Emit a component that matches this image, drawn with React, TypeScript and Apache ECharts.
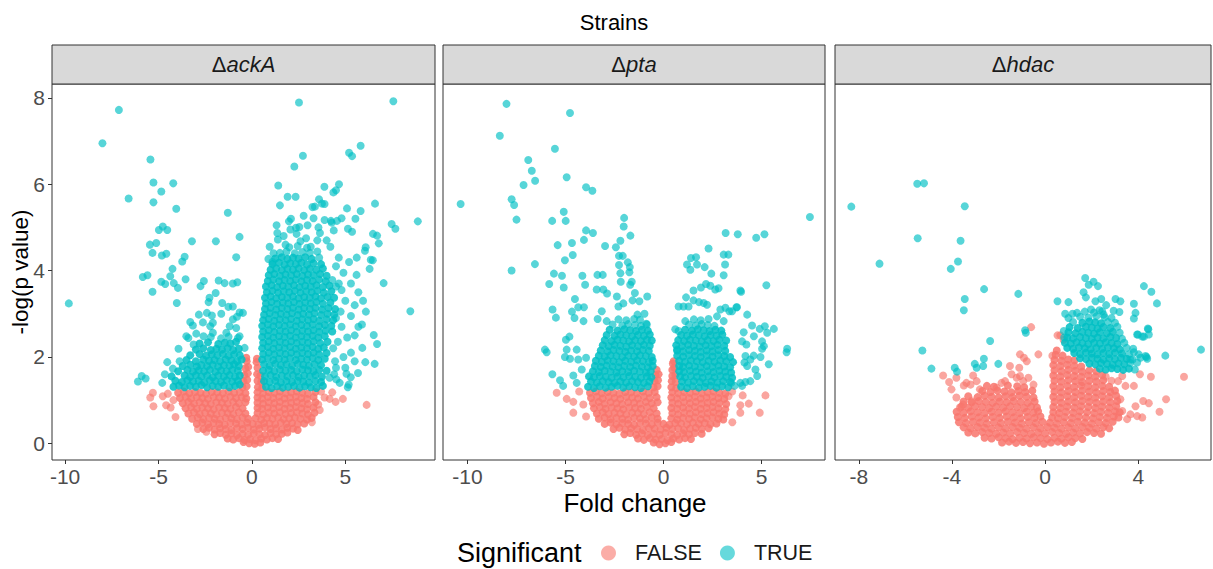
import React, { useEffect, useRef } from "react";
import * as echarts from "echarts";

// ---- data: fold change / -log(p value) pairs, flattened as x,y,x,y,... ----
// "core" arrays hold the crowded middle of each cloud, "scattered" arrays the loose points around it.

const strainLabels = ["ackA", "pta", "hdac"];
const yTicks = [0, 2, 4, 6, 8];
const ackA_xTicks = [-10, -5, 0, 5];
const pta_xTicks = [-10, -5, 0, 5];
const hdac_xTicks = [-8, -4, 0, 4];
const significanceLevels = ["FALSE", "TRUE"];

const ackA_false_core = [
  -0.45,0.03, -0.15,0.0, 0.15,-0.01, 0.45,0.02,
  -1.3,0.11, -1.0,0.09, -0.7,0.12, -0.4,0.08, -0.1,0.1, 0.2,0.07, 0.5,0.11, 0.8,0.09, 1.1,0.12, 1.4,0.1,
  -2.0,0.21, -1.7,0.24, -1.4,0.2, -1.1,0.23, -0.8,0.19, -0.5,0.22, -0.2,0.2, 0.1,0.23, 0.4,0.21, 0.7,0.19, 1.0,0.24, 1.3,0.21, 1.6,0.22, 1.9,0.25,
  -2.6,0.33, -2.3,0.36, -2.0,0.32, -1.7,0.35, -1.4,0.33, -1.1,0.31, -0.8,0.35, -0.5,0.33, -0.2,0.36, 0.1,0.32, 0.4,0.34, 0.7,0.37, 1.0,0.33, 1.3,0.35, 1.6,0.32, 1.9,0.36, 2.2,0.34, 2.45,0.31,
  -2.95,0.45, -2.65,0.48, -2.35,0.44, -2.05,0.47, -1.75,0.45, -1.45,0.43, -1.15,0.47, -0.85,0.46, -0.55,0.44, -0.25,0.48, 0.05,0.45, 0.35,0.43, 0.65,0.47, 0.95,0.46, 1.25,0.44, 1.55,0.48, 1.85,0.45, 2.15,0.47, 2.45,0.44, 2.8,0.46,
  -3.2,0.57, -2.9,0.6, -2.6,0.56, -2.3,0.59, -2.0,0.57, -1.7,0.55, -1.4,0.59, -1.1,0.58, -0.8,0.56, -0.5,0.6, -0.2,0.57, 0.2,0.58, 0.5,0.55, 0.8,0.59, 1.1,0.57, 1.4,0.6, 1.7,0.56, 2.0,0.58, 2.3,0.6, 2.6,0.57, 2.95,0.55, 3.2,0.59,
  -3.4,0.69, -3.1,0.72, -2.8,0.68, -2.5,0.71, -2.2,0.69, -1.9,0.67, -1.6,0.71, -1.3,0.7, -1.0,0.68, -0.7,0.72, -0.35,0.69, 0.3,0.7, 0.6,0.67, 0.9,0.71, 1.2,0.69, 1.5,0.72, 1.8,0.68, 2.1,0.7, 2.4,0.72, 2.7,0.69, 3.0,0.67, 3.35,0.71,
  -3.55,0.81, -3.25,0.84, -2.95,0.8, -2.65,0.83, -2.35,0.81, -2.05,0.79, -1.75,0.83, -1.45,0.82, -1.15,0.8, -0.85,0.84, -0.5,0.81, 0.3,0.82, 0.55,0.8, 0.85,0.83, 1.15,0.81, 1.45,0.84, 1.75,0.8, 2.05,0.82, 2.35,0.84, 2.65,0.81, 2.95,0.79, 3.3,0.83,
  -3.7,0.93, -3.4,0.96, -3.1,0.92, -2.8,0.95, -2.5,0.93, -2.2,0.91, -1.9,0.95, -1.6,0.94, -1.3,0.92, -1.0,0.96, -0.7,0.93, -0.35,0.95, 0.3,0.94, 0.6,0.92, 0.9,0.95, 1.2,0.93, 1.5,0.96, 1.8,0.92, 2.1,0.94, 2.4,0.96, 2.7,0.93, 3.0,0.91, 3.4,0.95,
  -3.85,1.05, -3.55,1.08, -3.25,1.04, -2.95,1.07, -2.65,1.05, -2.35,1.03, -2.05,1.07, -1.75,1.06, -1.45,1.04, -1.15,1.08, -0.85,1.05, -0.55,1.07, -0.3,1.04, 0.3,1.06, 0.55,1.04, 0.85,1.07, 1.15,1.05, 1.45,1.08, 1.75,1.04, 2.05,1.06, 2.35,1.08, 2.65,1.05, 2.95,1.03, 3.3,1.07,
  -3.95,1.17, -3.65,1.2, -3.35,1.16, -3.05,1.19, -2.75,1.17, -2.45,1.15, -2.15,1.19, -1.85,1.18, -1.55,1.16, -1.25,1.2, -0.95,1.17, -0.65,1.19, -0.35,1.16, 0.3,1.18, 0.6,1.16, 0.9,1.19, 1.2,1.17, 1.5,1.2, 1.8,1.16, 2.1,1.18, 2.4,1.2, 2.7,1.17, 3.0,1.15, 3.4,1.19,
  -0.5,1.3, -0.28,1.32, 0.32,1.3, 0.55,1.28, -0.45,1.44, -0.25,1.47, 0.3,1.45, 0.5,1.42, -0.4,1.58, -0.22,1.62, 0.28,1.6, 0.45,1.57, -0.35,1.74, -0.2,1.77, 0.3,1.75, -0.28,1.9, 0.25,1.88, -0.3,1.98, 0.27,1.96,
];

const ackA_false_scattered = [
  -5.3,1.17, -5.44,1.06, -5.27,0.86, -4.77,1.09, -4.59,0.88, -4.09,0.61, -4.35,0.83, -4.5,1.15, -4.2,1.0, -2.89,0.33, -2.44,0.27,
  6.14,0.89, 4.87,1.03, 4.48,0.96, 4.16,1.03, 3.89,1.06, 3.63,0.77, 3.21,0.49, 3.7,1.2, 4.3,1.18, 3.55,0.9,
];

const ackA_true_core = [
  // left cloud
  -4.2,1.31, -3.9,1.34, -3.6,1.3, -3.3,1.33, -3.0,1.31, -2.7,1.35, -2.4,1.3, -2.1,1.33, -1.8,1.31, -1.5,1.34, -1.2,1.3, -0.9,1.33, -0.65,1.36,
  -4.1,1.45, -3.75,1.42, -3.45,1.46, -3.15,1.43, -2.85,1.45, -2.55,1.41, -2.25,1.46, -1.95,1.44, -1.65,1.42, -1.35,1.46, -1.05,1.43, -0.75,1.45,
  -4.3,1.55, -3.6,1.57, -3.3,1.54, -3.0,1.58, -2.7,1.55, -2.4,1.57, -2.1,1.53, -1.8,1.57, -1.5,1.55, -1.2,1.58, -0.9,1.54, -0.65,1.57,
  -3.95,1.67, -3.45,1.7, -3.15,1.66, -2.85,1.69, -2.55,1.67, -2.25,1.7, -1.95,1.66, -1.65,1.69, -1.35,1.67, -1.05,1.7, -0.75,1.68,
  -3.7,1.79, -3.3,1.82, -2.95,1.78, -2.7,1.81, -2.4,1.79, -2.1,1.82, -1.8,1.78, -1.5,1.81, -1.2,1.8, -0.95,1.83, -0.7,1.79,
  -3.5,1.93, -3.0,1.9, -2.6,1.94, -2.3,1.91, -2.0,1.93, -1.7,1.9, -1.4,1.94, -1.1,1.92, -0.8,1.9, -0.55,1.94,
  -3.3,2.04, -2.8,2.07, -2.45,2.03, -2.15,2.06, -1.85,2.04, -1.55,2.07, -1.25,2.03, -0.95,2.06, -0.65,2.04,
  -3.0,2.17, -2.6,2.2, -2.2,2.16, -1.9,2.19, -1.6,2.17, -1.3,2.2, -1.0,2.16, -0.7,2.19,
  -2.8,2.31, -2.35,2.34, -1.8,2.3, -1.45,2.33, -1.15,2.31, -0.85,2.35,
  // right cloud
  0.75,1.31, 1.05,1.28, 1.35,1.32, 1.65,1.29, 1.95,1.31, 2.25,1.33, 2.55,1.29, 2.85,1.32, 3.15,1.3, 3.45,1.28, 3.8,1.33,
  0.65,1.44, 0.95,1.42, 1.25,1.45, 1.55,1.41, 1.85,1.44, 2.15,1.42, 2.45,1.45, 2.75,1.43, 3.05,1.41, 3.4,1.44, 3.7,1.42,
  0.7,1.55, 1.0,1.58, 1.3,1.54, 1.6,1.57, 1.9,1.55, 2.2,1.58, 2.5,1.54, 2.8,1.57, 3.1,1.55, 3.4,1.58, 3.75,1.54,
  0.6,1.68, 0.9,1.7, 1.2,1.67, 1.5,1.71, 1.8,1.68, 2.1,1.7, 2.4,1.67, 2.7,1.71, 3.0,1.69, 3.3,1.67, 3.6,1.7, 4.0,1.68,
  0.65,1.83, 0.95,1.8, 1.25,1.84, 1.55,1.81, 1.85,1.83, 2.15,1.8, 2.45,1.84, 2.75,1.82, 3.05,1.8, 3.35,1.83, 3.7,1.81,
  0.55,1.94, 0.85,1.97, 1.15,1.93, 1.45,1.96, 1.75,1.94, 2.05,1.97, 2.35,1.93, 2.65,1.96, 2.95,1.94, 3.25,1.97, 3.55,1.93, 3.9,1.96,
  0.6,2.07, 0.9,2.1, 1.2,2.06, 1.5,2.09, 1.8,2.07, 2.1,2.1, 2.4,2.06, 2.7,2.09, 3.0,2.07, 3.3,2.1, 3.6,2.06, 4.0,2.09,
  0.55,2.2, 0.85,2.23, 1.15,2.19, 1.45,2.22, 1.75,2.2, 2.05,2.23, 2.35,2.19, 2.65,2.22, 2.95,2.2, 3.25,2.23, 3.55,2.19, 3.85,2.22,
  0.6,2.33, 0.9,2.36, 1.2,2.32, 1.5,2.35, 1.8,2.33, 2.1,2.36, 2.4,2.32, 2.7,2.35, 3.0,2.33, 3.3,2.36, 3.65,2.32, 4.05,2.35,
  0.55,2.46, 0.85,2.49, 1.15,2.45, 1.45,2.48, 1.75,2.46, 2.05,2.49, 2.35,2.45, 2.65,2.48, 2.95,2.46, 3.25,2.49, 3.55,2.45, 3.9,2.48,
  0.6,2.59, 0.9,2.62, 1.2,2.58, 1.5,2.61, 1.8,2.59, 2.1,2.62, 2.4,2.58, 2.7,2.61, 3.0,2.59, 3.3,2.62, 3.6,2.58, 3.95,2.61, 4.3,2.59,
  0.55,2.72, 0.85,2.75, 1.15,2.71, 1.45,2.74, 1.75,2.72, 2.05,2.75, 2.35,2.71, 2.65,2.74, 2.95,2.72, 3.25,2.75, 3.6,2.71, 3.9,2.74, 4.25,2.72,
  0.6,2.85, 0.9,2.88, 1.2,2.84, 1.5,2.87, 1.8,2.85, 2.1,2.88, 2.4,2.84, 2.7,2.87, 3.0,2.85, 3.3,2.88, 3.6,2.84, 4.0,2.87, 4.35,2.85,
  0.65,2.98, 0.95,3.01, 1.25,2.97, 1.55,3.0, 1.85,2.98, 2.15,3.01, 2.45,2.97, 2.75,3.0, 3.05,2.98, 3.35,3.01, 3.7,2.97, 4.05,3.0, 4.4,2.98,
  0.7,3.11, 1.0,3.14, 1.3,3.1, 1.6,3.13, 1.9,3.11, 2.2,3.14, 2.5,3.1, 2.8,3.13, 3.1,3.11, 3.4,3.14, 3.75,3.1, 4.1,3.13, 4.45,3.11,
  0.75,3.24, 1.05,3.27, 1.35,3.23, 1.65,3.26, 1.95,3.24, 2.25,3.27, 2.55,3.23, 2.85,3.26, 3.15,3.24, 3.45,3.27, 3.8,3.23, 4.2,3.26,
  0.7,3.37, 1.0,3.4, 1.3,3.36, 1.6,3.39, 1.9,3.37, 2.2,3.4, 2.5,3.36, 2.8,3.39, 3.1,3.37, 3.4,3.4, 3.7,3.36, 4.05,3.39, 4.4,3.37,
  0.8,3.5, 1.1,3.53, 1.4,3.49, 1.7,3.52, 2.0,3.5, 2.3,3.53, 2.6,3.49, 2.9,3.52, 3.2,3.5, 3.5,3.53, 3.85,3.49, 4.25,3.52,
  0.75,3.63, 1.05,3.66, 1.35,3.62, 1.65,3.65, 1.95,3.63, 2.25,3.66, 2.55,3.62, 2.85,3.65, 3.15,3.63, 3.45,3.66, 3.8,3.62, 4.15,3.65,
  0.85,3.76, 1.15,3.79, 1.45,3.75, 1.75,3.78, 2.05,3.76, 2.35,3.79, 2.65,3.75, 2.95,3.78, 3.25,3.76, 3.6,3.79, 3.95,3.75,
  0.9,3.89, 1.2,3.92, 1.5,3.88, 1.8,3.91, 2.1,3.89, 2.4,3.92, 2.7,3.88, 3.0,3.91, 3.3,3.89, 3.65,3.92, 4.0,3.88,
  1.0,4.02, 1.3,4.05, 1.6,4.01, 1.9,4.04, 2.2,4.02, 2.5,4.05, 2.8,4.01, 3.1,4.04, 3.45,4.02, 3.8,4.05,
  1.1,4.15, 1.45,4.18, 1.75,4.14, 2.05,4.17, 2.35,4.15, 2.65,4.18, 2.95,4.14, 3.3,4.17, 3.7,4.15,
  1.25,4.28, 1.6,4.31, 1.9,4.27, 2.2,4.3, 2.5,4.28, 2.85,4.31, 3.2,4.27,
];

const ackA_true_scattered = [
  -9.8,3.24, -8.0,6.95, -7.12,7.72, -6.6,5.67, -5.43,6.57, -5.27,6.04, -4.21,6.02, -4.85,5.83, -5.27,5.58, -4.05,5.43,
  -4.98,4.94, -4.77,5.02, -4.53,4.94, -5.46,4.6, -5.12,4.64, -5.32,4.41, -4.82,4.35, -4.58,4.39, -4.25,4.04, -3.73,4.21,
  -3.6,4.32, -5.84,3.85, -5.59,3.89, -4.85,3.74, -4.64,3.69, -4.37,3.87, -4.18,3.71, -3.96,3.6, -3.55,3.8, -5.32,3.51,
  -4.02,3.25, -3.21,4.68, -1.93,4.68, -1.29,5.34, -0.66,4.78, -0.84,4.31, -2.75,3.64, -2.57,3.76, -1.78,3.77, -1.46,3.71,
  -1.02,3.7, -0.78,3.73, -1.94,3.48, -2.27,3.37, -2.32,3.27, -1.59,3.25, -1.26,3.16, -1.02,3.17, -1.64,3.0, -2.84,2.98,
  -2.41,3.02, -2.14,2.96, -0.66,3.03, -0.48,3.02, -3.3,2.81, -3.16,2.73, -2.62,2.8, -2.23,2.71, -1.02,2.87, -0.8,2.93,
  -1.19,2.71, -0.84,2.67, -2.09,2.79, -3.51,2.48, -2.98,2.54, -2.59,2.48, -2.09,2.56, -1.37,2.56, -0.66,2.48, -0.39,2.21,
  -3.12,2.29, -3.93,2.19, -6.1,1.43, -5.9,1.56, -5.69,1.5, -4.8,1.4, -4.53,1.88, -4.66,1.6, -4.23,1.73, -3.87,1.9,
  -3.4,2.44, -2.2,2.46, -1.65,2.43, -1.25,2.47, -0.75,2.44,
  4.5,3.63, 4.3,3.78, 3.6,4.3, 1.5,4.41, 1.85,4.44, 2.3,4.4, 2.7,4.43, 3.1,4.41, 3.5,4.44, 2.0,4.54, 2.45,4.57, 2.95,4.53,
  2.52,7.89, 7.57,7.92, 2.73,6.66, 2.27,6.41, 5.2,6.73, 5.36,6.65, 5.82,6.89, 1.41,5.97, 1.91,5.71, 2.34,5.71,
  3.88,5.94, 4.66,6.0, 4.36,5.81, 4.5,5.86, 3.59,5.65, 3.75,5.55, 3.89,5.54, 3.37,5.48, 3.24,5.47, 1.5,5.51,
  5.09,5.44, 6.59,5.55, 5.82,5.38, 8.88,5.14, 7.48,5.08, 7.68,4.97, 2.77,5.27, 3.3,5.21, 2.09,5.2, 1.98,5.14,
  1.32,5.05, 1.36,4.87, 1.39,4.72, 3.89,5.17, 4.23,5.15, 4.55,5.15, 4.8,5.21, 5.54,5.2, 2.36,4.99, 2.54,5.01,
  2.98,5.05, 3.56,5.0, 3.64,4.87, 4.27,5.11, 4.38,4.93, 5.14,4.97, 5.36,4.9, 2.06,4.95, 2.39,4.85, 6.48,4.85,
  6.7,4.81, 6.79,4.63, 6.09,4.54, 6.05,4.46, 5.61,4.3, 6.47,4.24, 7.05,3.71, 0.88,4.27, 1.16,4.4, 8.48,3.06,
  6.52,2.51, 6.7,2.3, 6.57,1.84, 6.07,1.88, 5.91,2.21, 5.89,2.75, 5.7,2.7, 6.36,4.25, 6.3,4.04, 5.68,1.63,
  5.29,1.53, 5.13,1.3, 5.06,1.61, 5.18,1.36, 4.52,1.48, 4.16,1.52, 4.7,1.4, 5.0,1.75, 4.5,1.75, 4.9,2.0,
  5.3,2.1, 4.6,2.35, 5.1,2.45, 5.5,2.5, 4.8,2.7, 5.3,2.95, 4.75,3.05, 5.0,3.3, 5.5,3.2, 4.8,3.55,
  5.3,3.7, 5.6,3.9, 4.9,3.95, 5.2,4.2, 4.65,4.3, 5.7,3.5, 5.95,3.3, 6.1,3.05, 5.5,1.9, 4.4,1.6,
  4.2,4.55, 4.0,4.7, 3.5,4.7, 2.9,4.75, 1.8,4.6, 2.6,4.68, 3.15,4.55, 1.1,4.2, 4.5,4.1, 4.35,2.2,
  4.5,2.9, 4.65,3.7, 4.45,1.9, 0.95,4.55, 1.7,4.8,
];

const pta_false_core = [
  -0.5,0.02, -0.2,-0.02, 0.1,0.0, 0.4,0.03,
  -1.3,0.11, -1.0,0.08, -0.7,0.12, -0.4,0.09, -0.1,0.1, 0.2,0.07, 0.5,0.11, 0.8,0.09, 1.1,0.12, 1.4,0.1,
  -2.0,0.21, -1.7,0.24, -1.4,0.2, -1.1,0.23, -0.8,0.19, -0.5,0.22, -0.2,0.2, 0.1,0.24, 0.4,0.21, 0.7,0.19, 1.0,0.23, 1.3,0.21, 1.6,0.24, 1.95,0.22,
  -2.55,0.33, -2.25,0.36, -1.95,0.32, -1.65,0.35, -1.35,0.33, -1.05,0.31, -0.75,0.35, -0.45,0.34, -0.15,0.32, 0.15,0.36, 0.45,0.33, 0.75,0.35, 1.05,0.31, 1.35,0.34, 1.65,0.36, 1.95,0.33, 2.3,0.35,
  -3.0,0.45, -2.7,0.48, -2.4,0.44, -2.1,0.47, -1.8,0.45, -1.5,0.43, -1.2,0.47, -0.9,0.46, -0.6,0.44, -0.3,0.48, 0.0,0.45, 0.3,0.43, 0.6,0.47, 0.9,0.46, 1.2,0.44, 1.5,0.48, 1.8,0.45, 2.1,0.47, 2.4,0.44, 2.7,0.46,
  -3.3,0.57, -3.0,0.6, -2.7,0.56, -2.4,0.59, -2.1,0.57, -1.8,0.55, -1.5,0.59, -1.2,0.58, -0.9,0.56, -0.6,0.6, -0.3,0.57, 0.4,0.58, 0.7,0.55, 1.0,0.59, 1.3,0.57, 1.6,0.6, 1.9,0.56, 2.2,0.58, 2.5,0.6, 2.8,0.57, 3.05,0.55,
  -3.4,0.69, -3.1,0.72, -2.8,0.68, -2.5,0.71, -2.2,0.69, -1.9,0.67, -1.6,0.71, -1.3,0.7, -1.0,0.68, -0.7,0.72, -0.35,0.69, 0.45,0.7, 0.75,0.67, 1.05,0.71, 1.35,0.69, 1.65,0.72, 1.95,0.68, 2.25,0.7, 2.55,0.72, 2.85,0.69, 3.1,0.67,
  -3.55,0.81, -3.25,0.84, -2.95,0.8, -2.65,0.83, -2.35,0.81, -2.05,0.79, -1.75,0.83, -1.45,0.82, -1.15,0.8, -0.85,0.84, -0.5,0.81, 0.4,0.82, 0.7,0.8, 1.0,0.83, 1.3,0.81, 1.6,0.84, 1.9,0.8, 2.2,0.82, 2.5,0.84, 2.8,0.81, 3.15,0.79,
  -3.6,0.93, -3.3,0.96, -3.0,0.92, -2.7,0.95, -2.4,0.93, -2.1,0.91, -1.8,0.95, -1.5,0.94, -1.2,0.92, -0.9,0.96, -0.6,0.93, -0.3,0.95, 0.45,0.94, 0.75,0.92, 1.05,0.95, 1.35,0.93, 1.65,0.96, 1.95,0.92, 2.25,0.94, 2.55,0.96, 2.85,0.93, 3.2,0.91,
  -3.7,1.05, -3.4,1.08, -3.1,1.04, -2.8,1.07, -2.5,1.05, -2.2,1.03, -1.9,1.07, -1.6,1.06, -1.3,1.04, -1.0,1.08, -0.7,1.05, -0.35,1.07, 0.4,1.06, 0.7,1.04, 1.0,1.07, 1.3,1.05, 1.6,1.08, 1.9,1.04, 2.2,1.06, 2.5,1.08, 2.8,1.05, 3.1,1.03,
  -3.75,1.17, -3.45,1.2, -3.15,1.16, -2.85,1.19, -2.55,1.17, -2.25,1.15, -1.95,1.19, -1.65,1.18, -1.35,1.16, -1.05,1.2, -0.75,1.17, -0.45,1.19, 0.45,1.18, 0.75,1.16, 1.05,1.19, 1.35,1.17, 1.65,1.2, 1.95,1.16, 2.25,1.18, 2.55,1.2, 2.85,1.17, 3.15,1.15,
  -0.5,1.3, -0.3,1.32, 0.4,1.3, 0.65,1.28, -0.45,1.44, -0.28,1.46, 0.42,1.44, 0.62,1.42, -0.4,1.58, -0.25,1.6, 0.45,1.56, 0.6,1.58, -0.35,1.7, 0.45,1.7, 0.55,1.75, 0.48,1.85, 0.52,1.9,
];

const pta_false_scattered = [
  -5.45,1.17, -4.94,1.03, -4.6,0.96, -4.6,0.71, -4.09,0.9, -4.3,1.2, -3.95,0.62,
  4.04,1.11, 4.35,0.92, 3.92,0.88, 3.92,0.71, 4.91,0.71, 5.2,1.11, 3.51,0.49, 3.32,1.09, 3.5,1.2,
];

const pta_true_core = [
  // left cloud
  -3.85,1.31, -3.55,1.28, -3.25,1.32, -2.95,1.29, -2.65,1.31, -2.35,1.33, -2.05,1.29, -1.75,1.32, -1.45,1.3, -1.15,1.28, -0.8,1.32,
  -3.7,1.43, -3.4,1.41, -3.1,1.44, -2.8,1.42, -2.5,1.4, -2.2,1.43, -1.9,1.41, -1.6,1.44, -1.3,1.42, -1.0,1.4, -0.72,1.43,
  -3.8,1.55, -3.55,1.53, -3.25,1.56, -2.95,1.54, -2.65,1.52, -2.35,1.55, -2.05,1.53, -1.75,1.56, -1.45,1.54, -1.15,1.52, -0.85,1.55, -0.62,1.53,
  -3.6,1.67, -3.3,1.65, -3.0,1.68, -2.7,1.66, -2.4,1.64, -2.1,1.67, -1.8,1.65, -1.5,1.68, -1.2,1.66, -0.9,1.64, -0.65,1.67,
  -3.5,1.79, -3.2,1.77, -2.9,1.8, -2.6,1.78, -2.3,1.76, -2.0,1.79, -1.7,1.77, -1.4,1.8, -1.1,1.78, -0.8,1.76, -0.55,1.79,
  -3.45,1.91, -3.15,1.89, -2.85,1.92, -2.55,1.9, -2.25,1.88, -1.95,1.91, -1.65,1.89, -1.35,1.92, -1.05,1.9, -0.75,1.88, -0.55,1.91,
  -3.3,2.03, -3.0,2.01, -2.7,2.04, -2.4,2.02, -2.1,2.0, -1.8,2.03, -1.5,2.01, -1.2,2.04, -0.9,2.02, -0.6,2.0,
  -3.2,2.15, -2.85,2.13, -2.55,2.16, -2.25,2.14, -1.95,2.12, -1.65,2.15, -1.35,2.13, -1.05,2.16, -0.75,2.14,
  -3.1,2.27, -2.8,2.25, -2.5,2.28, -2.2,2.26, -1.9,2.24, -1.6,2.27, -1.3,2.25, -1.0,2.28, -0.7,2.26,
  -3.0,2.39, -2.65,2.37, -2.35,2.4, -2.05,2.38, -1.75,2.36, -1.45,2.39, -1.15,2.37, -0.85,2.4, -0.6,2.38,
  -2.9,2.51, -2.5,2.49, -2.2,2.52, -1.9,2.5, -1.6,2.48, -1.3,2.51, -1.0,2.49, -0.7,2.52,
  -2.75,2.63, -2.35,2.61, -2.0,2.64, -1.7,2.62, -1.4,2.6, -1.1,2.63, -0.8,2.61,
  // right cloud
  0.9,1.31, 1.2,1.28, 1.5,1.32, 1.8,1.29, 2.1,1.31, 2.4,1.33, 2.7,1.29, 3.0,1.32, 3.3,1.3,
  0.95,1.43, 1.25,1.41, 1.55,1.44, 1.85,1.42, 2.15,1.4, 2.45,1.43, 2.75,1.41, 3.05,1.44, 3.4,1.42,
  0.85,1.55, 1.1,1.53, 1.4,1.56, 1.7,1.54, 2.0,1.52, 2.3,1.55, 2.6,1.53, 2.9,1.56, 3.2,1.54, 3.5,1.52,
  0.8,1.67, 1.05,1.65, 1.35,1.68, 1.65,1.66, 1.95,1.64, 2.25,1.67, 2.55,1.65, 2.85,1.68, 3.15,1.66, 3.45,1.64,
  0.8,1.79, 1.0,1.77, 1.3,1.8, 1.6,1.78, 1.9,1.76, 2.2,1.79, 2.5,1.77, 2.8,1.8, 3.1,1.78, 3.4,1.76,
  0.8,1.91, 1.1,1.89, 1.4,1.92, 1.7,1.9, 2.0,1.88, 2.3,1.91, 2.6,1.89, 2.9,1.92, 3.2,1.9, 3.55,1.88,
  0.7,2.03, 1.0,2.01, 1.3,2.04, 1.6,2.02, 1.9,2.0, 2.2,2.03, 2.5,2.01, 2.8,2.04, 3.1,2.02, 3.4,2.0,
  0.7,2.15, 1.0,2.13, 1.3,2.16, 1.6,2.14, 1.9,2.12, 2.2,2.15, 2.5,2.13, 2.8,2.16, 3.15,2.14,
  0.65,2.27, 0.95,2.25, 1.25,2.28, 1.55,2.26, 1.85,2.24, 2.15,2.27, 2.45,2.25, 2.75,2.28, 3.1,2.26,
  0.75,2.39, 1.05,2.37, 1.35,2.4, 1.65,2.38, 1.95,2.36, 2.25,2.39, 2.55,2.37, 2.85,2.4, 3.2,2.38,
  0.9,2.51, 1.2,2.49, 1.5,2.52, 1.8,2.5, 2.1,2.48, 2.4,2.51, 2.7,2.49, 3.0,2.52,
  1.1,2.63, 1.45,2.61, 1.75,2.64, 2.05,2.62, 2.35,2.6, 2.65,2.63, 2.95,2.61,
];

const pta_true_scattered = [
  -8.01,7.86, -4.77,7.65, -8.35,7.12, -5.54,6.82, -6.9,6.56, -6.72,6.31, -6.55,6.08, -7.14,5.98, -4.94,6.16, -3.95,5.93,
  -3.63,5.85, -7.75,5.65, -7.62,5.52, -10.35,5.54, -7.5,5.18, -5.09,5.36, -5.68,5.15, -4.99,5.15, -2.01,5.22, -2.03,5.02,
  -3.95,4.93, -3.6,4.87, -1.69,4.81, -4.06,4.71, -5.4,4.59, -4.67,4.64, -2.98,4.57, -2.43,4.54, -2.2,4.69,
  -7.75,4.0, -6.56,4.15, -5.03,4.24, -4.63,4.36, -5.59,3.93, -5.18,3.88, -5.83,3.69, -5.09,3.61, -4.14,3.88, -4.0,3.67,
  -3.37,3.9, -3.1,3.9, -3.41,3.56, -3.07,3.56, -2.88,3.47, -2.27,4.34, -2.08,4.34, -2.27,4.13, -1.82,4.19, -1.72,4.08,
  -2.2,3.94, -1.74,3.96, -2.18,3.74, -1.62,3.74, -1.7,3.67, -1.46,3.48, -1.58,3.31, -0.83,3.4, -1.23,3.29, -2.38,3.4,
  -2.3,3.17, -2.05,3.24, -4.52,3.34, -4.06,3.15, -4.35,3.15, -4.67,3.05, -4.54,2.9, -4.08,2.83, -5.66,3.1, -5.49,2.91,
  -3.36,2.88, -3.15,3.06, -2.9,2.83, -0.97,3.0, -1.33,2.98, -0.88,2.77, -4.98,2.4, -4.8,2.47, -6.05,2.17, -5.96,2.11,
  -4.94,2.17, -4.43,2.17, -4.35,1.94, -3.95,1.98, -5.03,2.0, -4.77,1.96, -5.67,1.6, -5.28,1.46, -5.12,1.33, -4.6,1.57,
  -4.43,1.4, -4.17,1.71,
  -2.6,2.75, -2.1,2.73, -1.8,2.76, -1.45,2.74, -1.15,2.72, -0.85,2.75, -2.3,2.87, -1.9,2.85, -1.5,2.88, -1.2,2.86,
  1.3,2.75, 1.65,2.73, 1.95,2.76, 2.25,2.74, 2.6,2.72, 1.55,2.87, 1.9,2.85, 2.3,2.88,
  0.6,2.64, 1.11,2.83, 0.77,2.6, 0.69,2.17,
  7.47,5.24, 3.17,4.87, 3.79,4.84, 4.73,4.76, 5.15,4.84, 2.3,4.51, 3.31,4.37, 1.4,4.29, 1.66,4.31, 5.25,3.66,
  3.96,3.51, 6.31,2.19, 6.28,2.11, 5.37,1.83, 5.03,2.19, 4.95,2.0, 5.63,2.65, 5.17,2.71, 4.91,2.65, 4.52,2.73,
  4.61,2.48, 4.09,2.57, 4.01,2.36, 4.23,2.29, 4.27,2.98, 3.72,3.15, 3.36,3.06, 3.07,2.83, 4.18,2.02, 4.43,1.94,
  4.6,2.03, 4.13,1.87, 3.92,1.4, 4.18,1.42, 4.01,1.33, 3.46,1.4, 3.62,1.33, 3.07,4.37, 3.14,4.14, 3.07,3.89,
  1.2,4.14, 1.71,4.14, 1.37,4.02, 2.1,4.08, 2.44,3.93, 2.17,3.69, 2.39,3.65, 2.64,3.56, 1.91,3.61, 1.53,3.54,
  1.15,3.38, 1.28,3.17, 1.53,3.31, 1.81,3.27, 2.05,3.25, 0.77,3.17, 2.9,3.1, 3.16,3.14, 3.5,3.06, 3.75,3.15,
  2.73,2.94, 3.92,3.54, 2.81,3.59, 2.22,3.21, 1.02,3.17, 5.29,2.56, 5.03,2.36, 5.12,2.25, 4.69,1.71, 4.78,1.56,
  4.43,1.44, 4.27,1.79,
];

const hdac_false_core = [
  -1.85,0.02, -1.55,0.04, -1.25,0.01, -0.95,0.03, -0.65,0.0, -0.35,0.02, -0.05,-0.01, 0.25,0.02, 0.55,0.04, 0.85,0.01, 1.15,0.03,
  -2.6,0.13, -2.3,0.11, -2.0,0.14, -1.7,0.12, -1.4,0.1, -1.1,0.13, -0.8,0.11, -0.5,0.14, -0.2,0.12, 0.1,0.1, 0.4,0.13, 0.7,0.11, 1.0,0.14, 1.3,0.12, 1.6,0.1,
  -3.3,0.25, -3.0,0.23, -2.7,0.26, -2.4,0.24, -2.1,0.22, -1.8,0.25, -1.5,0.23, -1.2,0.26, -0.9,0.24, -0.6,0.22, -0.3,0.25, 0.0,0.23, 0.3,0.26, 0.6,0.24, 0.9,0.22, 1.2,0.25, 1.5,0.23, 1.8,0.26, 2.1,0.24, 2.4,0.22,
  -3.5,0.37, -3.2,0.35, -2.9,0.38, -2.6,0.36, -2.3,0.34, -2.0,0.37, -1.7,0.35, -1.4,0.38, -1.1,0.36, -0.8,0.34, -0.5,0.37, -0.2,0.35, 0.1,0.38, 0.4,0.36, 0.7,0.34, 1.0,0.37, 1.3,0.35, 1.6,0.38, 1.9,0.36, 2.2,0.34, 2.5,0.37, 2.75,0.35,
  -3.7,0.49, -3.4,0.47, -3.1,0.5, -2.8,0.48, -2.5,0.46, -2.2,0.49, -1.9,0.47, -1.6,0.5, -1.3,0.48, -1.0,0.46, -0.7,0.49, -0.4,0.47, -0.12,0.5, 0.2,0.48, 0.5,0.46, 0.8,0.49, 1.1,0.47, 1.4,0.5, 1.7,0.48, 2.0,0.46, 2.3,0.49, 2.6,0.47, 2.9,0.5,
  -3.75,0.61, -3.45,0.59, -3.15,0.62, -2.85,0.6, -2.55,0.58, -2.25,0.61, -1.95,0.59, -1.65,0.62, -1.35,0.6, -1.05,0.58, -0.75,0.61, -0.45,0.59, -0.2,0.62, 0.3,0.6, 0.55,0.58, 0.85,0.61, 1.15,0.59, 1.45,0.62, 1.75,0.6, 2.05,0.58, 2.35,0.61, 2.65,0.59, 2.95,0.62, 3.15,0.6,
  -3.8,0.73, -3.5,0.71, -3.2,0.74, -2.9,0.72, -2.6,0.7, -2.3,0.73, -2.0,0.71, -1.7,0.74, -1.4,0.72, -1.1,0.7, -0.8,0.73, -0.5,0.71, -0.3,0.74, 0.35,0.72, 0.6,0.7, 0.9,0.73, 1.2,0.71, 1.5,0.74, 1.8,0.72, 2.1,0.7, 2.4,0.73, 2.7,0.71, 3.0,0.74, 3.2,0.72,
  -3.6,0.85, -3.3,0.83, -3.0,0.86, -2.7,0.84, -2.4,0.82, -2.1,0.85, -1.8,0.83, -1.5,0.86, -1.2,0.84, -0.9,0.82, -0.6,0.85, -0.35,0.83, 0.35,0.84, 0.65,0.82, 0.95,0.85, 1.25,0.83, 1.55,0.86, 1.85,0.84, 2.15,0.82, 2.45,0.85, 2.75,0.83, 3.05,0.86,
  -3.5,0.97, -3.15,0.95, -2.85,0.98, -2.55,0.96, -2.25,0.94, -1.95,0.97, -1.65,0.95, -1.35,0.98, -1.05,0.96, -0.75,0.94, -0.45,0.97, 0.4,0.96, 0.7,0.94, 1.0,0.97, 1.3,0.95, 1.6,0.98, 1.9,0.96, 2.2,0.94, 2.5,0.97, 2.8,0.95, 3.1,0.98,
  -3.3,1.09, -2.9,1.07, -2.6,1.1, -2.3,1.08, -2.0,1.06, -1.7,1.09, -1.4,1.07, -1.1,1.1, -0.8,1.08, -0.5,1.06, 0.35,1.08, 0.65,1.06, 0.95,1.09, 1.25,1.07, 1.55,1.1, 1.85,1.08, 2.15,1.06, 2.45,1.09, 2.75,1.07, 3.05,1.1,
  -2.7,1.21, -2.35,1.19, -2.05,1.22, -1.75,1.2, -1.45,1.18, -1.15,1.21, -0.85,1.19, -0.55,1.22, 0.4,1.2, 0.7,1.18, 1.0,1.21, 1.3,1.19, 1.6,1.22, 1.9,1.2, 2.2,1.18, 2.5,1.21, 2.8,1.19, 3.0,1.22,
  -2.5,1.33, -2.2,1.31, -1.6,1.34, -1.2,1.32, -0.9,1.3, 0.35,1.32, 0.65,1.3, 0.95,1.33, 1.25,1.31, 1.55,1.34, 1.85,1.32, 2.15,1.3, 2.45,1.33, 2.75,1.31,
  0.4,1.45, 0.7,1.43, 1.0,1.46, 1.3,1.44, 1.6,1.42, 1.9,1.45, 2.2,1.43, 2.5,1.46,
  0.35,1.57, 0.65,1.55, 0.95,1.58, 1.25,1.56, 1.55,1.54, 1.85,1.57, 2.15,1.55, 2.45,1.58,
  0.4,1.69, 0.7,1.67, 1.0,1.7, 1.3,1.68, 1.6,1.66, 1.9,1.69, 2.2,1.67,
  0.35,1.81, 0.65,1.79, 0.95,1.82, 1.25,1.8, 1.55,1.78,
  0.4,1.93, 0.7,1.91, 1.0,1.94, 1.25,1.92,
  0.45,2.05, 0.75,2.03, 0.5,2.15,
];

const hdac_false_scattered = [
  -4.38,1.57, -4.12,1.42, -4.02,1.25, -3.81,1.52, -3.49,1.34, -3.38,1.4, -3.66,0.83, -3.09,1.57, -3.2,1.36, -2.94,1.44,
  -2.8,1.25, -3.81,1.06, -3.52,0.9, -3.16,0.98, -1.44,1.6, -1.22,1.52, -1.08,1.56, -0.94,1.44, -0.72,1.52, -0.5,1.36,
  -1.72,1.44, -1.87,1.4, -2.08,1.29, -1.51,1.79, -0.79,1.9, -0.29,2.06, -1.08,2.06, -0.91,1.98, -1.11,1.75, -0.6,2.69,
  0.31,2.03, 0.53,2.5, 0.65,2.5, 0.79,2.4, 5.96,1.54, 4.54,1.54, 5.19,1.02, 4.91,0.73, 4.17,0.6, 4.45,0.93,
  4.21,0.98, 3.81,1.33, 3.45,1.33, 4.07,1.6, 3.31,1.56, 3.13,1.44, 3.88,0.86, 3.66,0.67, 3.95,0.63, 3.52,0.56,
  3.31,0.75, 3.23,1.02, 2.6,1.55, 2.85,1.45,
];

const hdac_true_core = [
  2.35,1.73, 2.6,1.71, 2.85,1.74, 3.1,1.72, 3.35,1.7, 3.6,1.73,
  1.9,1.85, 2.15,1.83, 2.4,1.86, 2.65,1.84, 2.9,1.82, 3.15,1.85, 3.4,1.83,
  1.5,1.97, 1.75,1.95, 2.0,1.98, 2.25,1.96, 2.5,1.94, 2.75,1.97, 3.0,1.95, 3.25,1.98, 3.5,1.96,
  1.25,2.09, 1.5,2.07, 1.75,2.1, 2.0,2.08, 2.25,2.06, 2.5,2.09, 2.75,2.07, 3.0,2.1, 3.3,2.08,
  0.95,2.21, 1.2,2.19, 1.45,2.22, 1.7,2.2, 1.95,2.18, 2.2,2.21, 2.45,2.19, 2.7,2.22, 2.95,2.2, 3.2,2.18,
  0.85,2.33, 1.1,2.31, 1.35,2.34, 1.6,2.32, 1.85,2.3, 2.1,2.33, 2.35,2.31, 2.6,2.34, 2.85,2.32, 3.1,2.3,
  0.95,2.45, 1.2,2.43, 1.5,2.46, 1.75,2.44, 2.0,2.42, 2.25,2.45, 2.5,2.43, 2.8,2.46, 3.05,2.44,
  1.0,2.57, 1.3,2.55, 1.6,2.58, 1.85,2.56, 2.1,2.54, 2.35,2.57, 2.65,2.55, 2.9,2.58,
  1.05,2.69, 1.4,2.67, 1.75,2.7, 2.0,2.68, 2.25,2.66, 2.5,2.69, 2.8,2.67,
  1.6,2.79, 1.9,2.82, 2.15,2.8, 2.4,2.78,
];

const hdac_true_scattered = [
  -5.49,6.01, -5.2,6.02, -8.32,5.48, -3.45,5.49, -5.47,4.75, -3.63,4.69, -3.74,4.21, -7.11,4.16, -4.05,4.04, -2.62,3.57,
  -3.45,3.34, -3.49,3.08, -1.15,3.46, -5.27,2.15, -4.88,1.73, -3.88,1.75, -3.78,1.66, -2.36,2.37, -3.02,1.84, -2.94,1.75,
  -2.63,1.96, -2.66,1.79, -2.01,1.84, -0.86,2.62, -0.83,2.56,
  3.85,1.71, 3.65,1.86, 3.75,1.94, 3.6,2.06, 3.5,2.21, 3.4,2.33, 3.3,2.42, 3.2,2.56, 3.1,2.7, 1.2,2.81, 2.7,2.81, 3.0,2.79,
  1.5,2.93, 1.85,2.91, 2.2,2.94, 2.55,2.92, 2.85,2.9, 1.7,3.05, 2.1,3.03, 2.45,3.06,
  6.69,2.17, 5.16,2.03, 4.24,3.64, 4.56,3.51, 4.8,3.24, 3.81,3.23, 3.88,3.02, 3.81,2.89, 1.72,3.83, 1.87,3.67,
  2.08,3.74, 2.27,3.64, 1.65,3.5, 1.75,3.38, 0.53,3.29, 1.0,3.27, 3.02,3.34, 3.23,3.29, 4.43,2.64, 4.45,2.52,
  3.95,2.52, 4.17,2.47, 3.78,2.19, 3.81,2.11, 4.35,2.0, 4.09,1.98, 2.16,3.29, 2.41,3.34, 2.62,3.2, 2.94,3.07,
  3.19,3.04, 1.97,3.1, 2.33,3.08, 2.51,2.98, 0.86,3.0, 1.18,3.0, 1.37,3.02, 4.41,2.66, 3.98,2.52, 4.24,2.47,
  4.02,2.06, 4.31,2.02, 4.38,1.96, 3.95,1.87, 3.66,1.94, 1.0,2.9, 0.8,2.6, 0.82,2.45,
];

// ---- layout & styling ----

const FONT = "'Liberation Sans', Arial, Helvetica, sans-serif";
const RED = "#F8766D";
const TEAL = "#00BFC4";
const SCATTER_OPACITY = 0.66;
const CORE_OPACITY = 0.86;
const POINT_SIZE = 8;
const PANEL_TOP = 84;
const PANEL_HEIGHT = 376;
const STRIP_TOP = 45;
const STRIP_HEIGHT = 39;
const Y_MIN = -0.386;
const Y_MAX = 8.32;

const panels = [
  {
    label: strainLabels[0], ticks: ackA_xTicks, xMin: -10.7, xMax: 9.8, left: 52, width: 383,
    falseCore: ackA_false_core, falseScattered: ackA_false_scattered, trueCore: ackA_true_core, trueScattered: ackA_true_scattered,
  },
  {
    label: strainLabels[1], ticks: pta_xTicks, xMin: -11.25, xMax: 8.24, left: 443, width: 382,
    falseCore: pta_false_core, falseScattered: pta_false_scattered, trueCore: pta_true_core, trueScattered: pta_true_scattered,
  },
  {
    label: strainLabels[2], ticks: hdac_xTicks, xMin: -9.02, xMax: 7.12, left: 835, width: 376,
    falseCore: hdac_false_core, falseScattered: hdac_false_scattered, trueCore: hdac_true_core, trueScattered: hdac_true_scattered,
  },
];

function toPairs(flat: number[]): number[][] {
  const out: number[][] = [];
  for (let i = 0; i + 1 < flat.length; i += 2) out.push([flat[i], flat[i + 1]]);
  return out;
}

function pointSeries(name: string, panelIndex: number, flat: number[], color: string, opacity: number) {
  return {
    type: "scatter",
    name,
    xAxisIndex: panelIndex,
    yAxisIndex: panelIndex,
    data: toPairs(flat),
    symbol: "circle",
    symbolSize: POINT_SIZE,
    itemStyle: { color, opacity },
    silent: true,
    emphasis: { disabled: true },
  };
}

function buildOption() {
  const grid = panels.map((p) => ({
    left: p.left,
    top: PANEL_TOP,
    width: p.width,
    height: PANEL_HEIGHT,
    show: true,
    borderColor: "#333333",
    borderWidth: 1,
    backgroundColor: "transparent",
  }));

  const xAxis = panels.map((p, i) => ({
    type: "value",
    gridIndex: i,
    min: p.xMin,
    max: p.xMax,
    splitLine: { show: false },
    axisLine: { show: false, onZero: false },
    axisTick: { show: true, length: 4, lineStyle: { color: "#333333", width: 1 }, customValues: p.ticks },
    axisLabel: { customValues: p.ticks, color: "#4D4D4D", fontSize: 21, fontFamily: FONT, margin: 6 },
  }));

  const yAxis = panels.map((_, i) => ({
    type: "value",
    gridIndex: i,
    min: Y_MIN,
    max: Y_MAX,
    splitLine: { show: false },
    axisLine: { show: false, onZero: false },
    axisTick: { show: i === 0, length: 4, lineStyle: { color: "#333333", width: 1 }, customValues: yTicks },
    axisLabel: { show: i === 0, customValues: yTicks, color: "#4D4D4D", fontSize: 21, fontFamily: FONT, margin: 7 },
  }));

  const series: any[] = [];
  panels.forEach((p, i) => {
    series.push(pointSeries(significanceLevels[0], i, p.falseCore, RED, CORE_OPACITY));
    series.push(pointSeries(significanceLevels[0], i, p.falseScattered, RED, SCATTER_OPACITY));
    series.push(pointSeries(significanceLevels[1], i, p.trueCore, TEAL, CORE_OPACITY));
    series.push(pointSeries(significanceLevels[1], i, p.trueScattered, TEAL, SCATTER_OPACITY));
  });

  const graphic: any[] = [];
  panels.forEach((p) => {
    graphic.push({
      type: "rect",
      shape: { x: p.left, y: STRIP_TOP, width: p.width, height: STRIP_HEIGHT },
      style: { fill: "#D9D9D9", stroke: "#333333", lineWidth: 1 },
    });
    graphic.push({
      type: "text",
      x: p.left + p.width / 2,
      y: STRIP_TOP + STRIP_HEIGHT / 2,
      style: {
        text: `{d|\u0394}{i|${p.label}}`,
        align: "center",
        verticalAlign: "middle",
        fill: "#1A1A1A",
        rich: {
          d: { fontSize: 22, fontFamily: FONT, fill: "#1A1A1A" },
          i: { fontSize: 22, fontFamily: FONT, fontStyle: "italic", fill: "#1A1A1A" },
        },
      },
    });
  });

  graphic.push(
    {
      type: "text",
      x: 614,
      y: 22,
      style: { text: "Strains", align: "center", verticalAlign: "middle", fill: "#000000", fontSize: 22, fontFamily: FONT },
    },
    {
      type: "text",
      x: 635,
      y: 503,
      style: { text: "Fold change", align: "center", verticalAlign: "middle", fill: "#000000", fontSize: 26, fontFamily: FONT },
    },
    {
      type: "text",
      x: 20,
      y: 272,
      rotation: Math.PI / 2,
      style: { text: "-log(p value)", align: "center", verticalAlign: "middle", fill: "#000000", fontSize: 22.5, fontFamily: FONT },
    },
    {
      type: "text",
      x: 457,
      y: 553,
      style: { text: "Significant", align: "left", verticalAlign: "middle", fill: "#000000", fontSize: 27, fontFamily: FONT },
    }
  );

  return {
    animation: false,
    backgroundColor: "#FFFFFF",
    grid,
    xAxis,
    yAxis,
    series,
    graphic,
    legend: {
      data: [
        { name: significanceLevels[0], itemStyle: { color: RED, opacity: 0.6 } },
        { name: significanceLevels[1], itemStyle: { color: TEAL, opacity: 0.6 } },
      ],
      left: 601,
      top: 542,
      padding: 0,
      orient: "horizontal",
      icon: "circle",
      itemWidth: 15,
      itemHeight: 15,
      itemGap: 18,
      selectedMode: false,
      textStyle: { fontSize: 21.5, fontFamily: FONT, color: "#1A1A1A", padding: [0, 0, 0, 14] },
    },
  };
}

export default function App() {
  const ref = useRef<HTMLDivElement>(null);
  useEffect(() => {
    if (!ref.current) return;
    const chart = echarts.init(ref.current, null, { renderer: "svg" });
    chart.setOption(buildOption() as any);
    return () => chart.dispose();
  }, []);
  return (
    <div
      ref={ref}
      style={{ position: "fixed", left: 0, top: 0, width: 1213, height: 569, background: "#FFFFFF" }}
    />
  );
}
